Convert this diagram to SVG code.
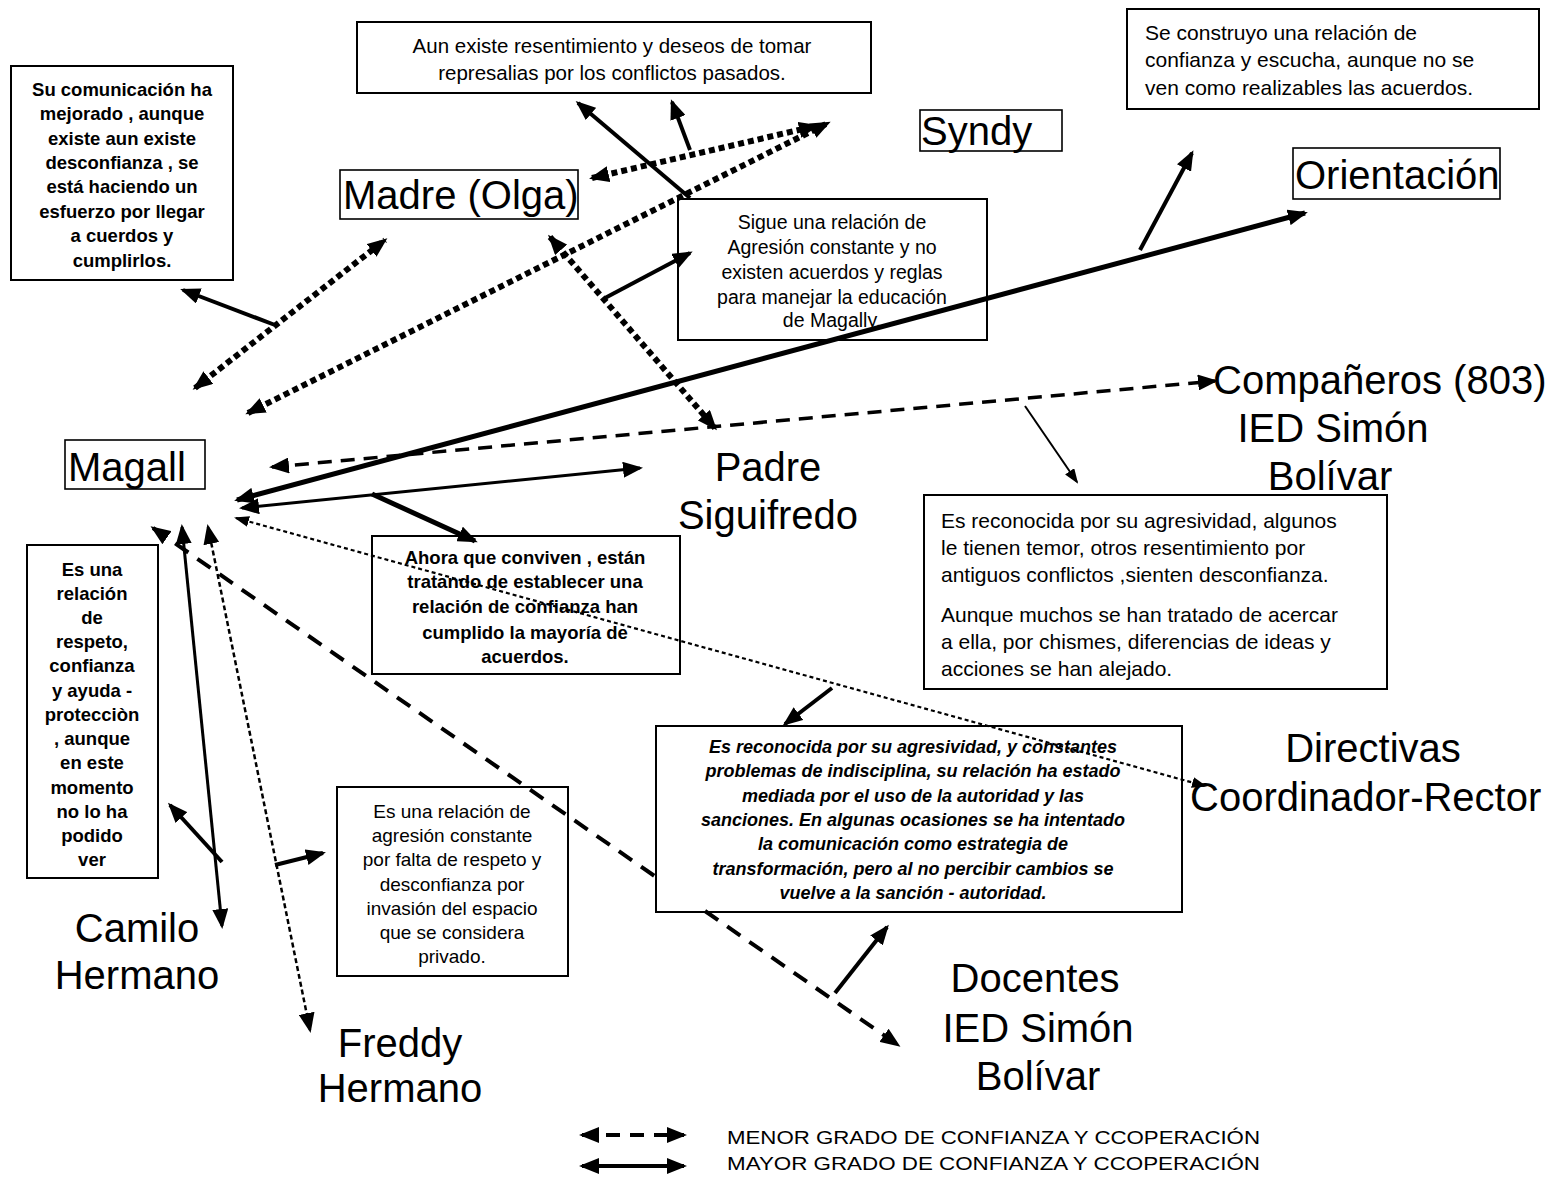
<svg xmlns="http://www.w3.org/2000/svg" width="1550" height="1178" viewBox="0 0 1550 1178">
<defs>
<style>
text{font-family:"Liberation Sans",Arial,sans-serif;fill:#000}
.lbl{font-size:40px}
.lblm{font-size:40px;text-anchor:middle}
.box{fill:#fff;stroke:#000;stroke-width:2}
.nbox{fill:#fff;stroke:#000;stroke-width:1.6}
.s20{font-size:20px;text-anchor:middle}
.s21{font-size:21px}
.sb{font-size:18.5px;font-weight:bold;text-anchor:middle}
.sbi{font-size:18px;font-weight:bold;font-style:italic;text-anchor:middle}
.leg{font-size:19px}
.c{fill:none;stroke:#000}
.dot{stroke-width:6;stroke-dasharray:6 4}
.tdot{stroke-width:2.2;stroke-dasharray:4 3}
.dash{stroke-width:3.5;stroke-dasharray:14 9}
.dash2{stroke-width:4;stroke-dasharray:16 11}
.thick{stroke-width:5}
.med{stroke-width:3}
.ann{stroke-width:4}
.thin{stroke-width:2}
.ah{marker-start:url(#ab);marker-end:url(#ab)}
.as{marker-start:url(#as);marker-end:url(#as)}
.eb{marker-end:url(#ab)}
.es{marker-end:url(#as)}
</style>
<marker id="ab" markerUnits="userSpaceOnUse" markerWidth="20" markerHeight="16" viewBox="0 0 20 16" refX="17" refY="8" orient="auto-start-reverse"><path d="M0,0 L20,8 L0,16 z" fill="#000"/></marker>
<marker id="as" markerUnits="userSpaceOnUse" markerWidth="15" markerHeight="11" viewBox="0 0 15 11" refX="13" refY="5.5" orient="auto-start-reverse"><path d="M0,0 L15,5.5 L0,11 z" fill="#000"/></marker>
</defs>
<rect width="1550" height="1178" fill="#fff"/>

<g id="nodes">
<g id="n-magall"><rect class="nbox" x="65" y="440" width="140" height="49"/><text class="lbl" x="68" y="481">Magall</text></g>
<g id="n-madre"><rect class="nbox" x="340" y="170" width="238" height="49"/><text class="lbl" x="343" y="209">Madre (Olga)</text></g>
<g id="n-syndy"><rect class="nbox" x="920" y="110" width="142" height="41"/><text class="lbl" x="921" y="145">Syndy</text></g>
<g id="n-orientacion"><rect class="nbox" x="1293" y="148" width="207" height="51"/><text class="lbl" x="1295" y="189">Orientación</text></g>
<g id="n-padre"><text class="lblm" x="768" y="481">Padre</text><text class="lblm" x="768" y="529">Siguifredo</text></g>
<g id="n-companeros"><text class="lbl" x="1213" y="394">Compañeros (803)</text><text class="lblm" x="1333" y="442">IED Simón</text><text class="lblm" x="1330" y="490">Bolívar</text></g>
<g id="n-directivas"><text class="lblm" x="1373" y="762">Directivas</text><text class="lbl" x="1190" y="811">Coordinador-Rector</text></g>
<g id="n-camilo"><text class="lblm" x="137" y="942">Camilo</text><text class="lblm" x="137" y="989">Hermano</text></g>
<g id="n-freddy"><text class="lblm" x="400" y="1057">Freddy</text><text class="lblm" x="400" y="1102">Hermano</text></g>
<g id="n-docentes"><text class="lblm" x="1035" y="992">Docentes</text><text class="lblm" x="1038" y="1042">IED Simón</text><text class="lblm" x="1038" y="1090">Bolívar</text></g>

<g id="b-madre-nota"><rect class="box" x="11" y="66" width="222" height="214"/>
<text class="sb"><tspan x="122" y="96">Su comunicación ha</tspan><tspan x="122" y="120">mejorado , aunque</tspan><tspan x="122" y="145">existe aun existe</tspan><tspan x="122" y="169">desconfianza , se</tspan><tspan x="122" y="193">está haciendo un</tspan><tspan x="122" y="218">esfuerzo por llegar</tspan><tspan x="122" y="242">a  cuerdos y</tspan><tspan x="122" y="267">cumplirlos.</tspan></text></g>

<g id="b-syndy-nota"><rect class="box" x="357" y="22" width="514" height="71"/>
<text class="s20" style="font-size:20.5px"><tspan x="612" y="53">Aun existe resentimiento y deseos de tomar</tspan><tspan x="612" y="80">represalias por los conflictos pasados.</tspan></text></g>

<g id="b-orientacion-nota"><rect class="box" x="1127" y="9" width="412" height="100"/>
<text class="s21"><tspan x="1145" y="40">Se construyo una relación de</tspan><tspan x="1145" y="67">confianza y escucha, aunque no se</tspan><tspan x="1145" y="95">ven como realizables las acuerdos.</tspan></text></g>

<g id="b-padres-nota"><rect class="box" x="678" y="199" width="309" height="141"/>
<text class="s20" style="font-size:19.5px"><tspan x="832" y="229">Sigue una relación de</tspan><tspan x="832" y="254">Agresión constante y no</tspan><tspan x="832" y="279">existen acuerdos y reglas</tspan><tspan x="832" y="304">para manejar la educación</tspan><tspan x="832" y="327">de Magally.</tspan></text></g>

<g id="b-padre-nota"><rect class="box" x="372" y="536" width="308" height="138"/>
<text class="sb"><tspan x="525" y="564">Ahora que conviven , están</tspan><tspan x="525" y="588">tratando de establecer una</tspan><tspan x="525" y="613">relación de confianza han</tspan><tspan x="525" y="639">cumplido la mayoría de</tspan><tspan x="525" y="663">acuerdos.</tspan></text></g>

<g id="b-camilo-nota"><rect class="box" x="27" y="545" width="131" height="333"/>
<text class="sb"><tspan x="92" y="576">Es una</tspan><tspan x="92" y="600">relación</tspan><tspan x="92" y="624">de</tspan><tspan x="92" y="648">respeto,</tspan><tspan x="92" y="672">confianza</tspan><tspan x="92" y="697">y ayuda -</tspan><tspan x="92" y="721">protecciòn</tspan><tspan x="92" y="745">, aunque</tspan><tspan x="92" y="769">en este</tspan><tspan x="92" y="794">momento</tspan><tspan x="92" y="818">no lo ha</tspan><tspan x="92" y="842">podido</tspan><tspan x="92" y="866">ver</tspan></text></g>

<g id="b-freddy-nota"><rect class="box" x="337" y="787" width="231" height="189"/>
<text class="s20" style="font-size:19px"><tspan x="452" y="818">Es una relación de</tspan><tspan x="452" y="842">agresión constante</tspan><tspan x="452" y="866">por falta de respeto y</tspan><tspan x="452" y="891">desconfianza por</tspan><tspan x="452" y="915">invasión del espacio</tspan><tspan x="452" y="939">que se considera</tspan><tspan x="452" y="963">privado.</tspan></text></g>

<g id="b-companeros-nota"><rect class="box" x="924" y="495" width="463" height="194"/>
<text class="s21"><tspan x="941" y="528">Es reconocida por su agresividad, algunos</tspan><tspan x="941" y="555">le tienen temor, otros resentimiento por</tspan><tspan x="941" y="582">antiguos conflictos ,sienten desconfianza.</tspan><tspan x="941" y="622">Aunque muchos se han tratado de acercar</tspan><tspan x="941" y="649">a ella, por chismes,  diferencias de ideas y</tspan><tspan x="941" y="676">acciones se han alejado.</tspan></text></g>

<g id="b-directivas-nota"><rect class="box" x="656" y="726" width="526" height="186"/>
<text class="sbi"><tspan x="913" y="753">Es reconocida por su agresividad, y constantes</tspan><tspan x="913" y="777">problemas de indisciplina, su relación ha estado</tspan><tspan x="913" y="802">mediada por el uso de la autoridad y las</tspan><tspan x="913" y="826">sanciones. En algunas ocasiones  se ha intentado</tspan><tspan x="913" y="850">la comunicación como estrategia de</tspan><tspan x="913" y="875">transformación, pero al no percibir cambios se</tspan><tspan x="913" y="899">vuelve a la sanción  - autoridad.</tspan></text></g>

<g id="legend">
<text class="leg" x="727" y="1144" textLength="533" lengthAdjust="spacingAndGlyphs">MENOR GRADO DE CONFIANZA Y CCOPERACIÓN</text>
<text class="leg" x="727" y="1170" textLength="533" lengthAdjust="spacingAndGlyphs">MAYOR GRADO DE CONFIANZA Y CCOPERACIÓN</text>
</g>
</g>

<g id="connectors">
<path class="c dot ah" d="M195,388 L385,240"/>
<path class="c ann eb" d="M275,325 L183,290"/>
<path class="c dot ah" d="M248,413 L828,123"/>
<path class="c dot ah" d="M592,178 L816,126"/>
<path class="c ann eb" d="M690,198 L578,103"/>
<path class="c ann eb" d="M690,150 L672,102"/>
<path class="c dot ah" d="M550,237 L715,428"/>
<path class="c ann eb" d="M605,298 L690,253"/>
<path class="c thick ah" d="M237,500 L1305,213"/>
<path class="c ann eb" d="M1140,250 L1192,153"/>
<path class="c dash ah" d="M272,467 L1215,381"/>
<path class="c thin es" d="M1025,406 L1077,482"/>
<path class="c med ah" d="M242,508 L640,468"/>
<path class="c thick eb" d="M372,494 L475,541"/>
<path class="c tdot as" d="M236,518 L1205,786"/>
<path class="c ann eb" d="M832,688 L785,724"/>
<path class="c dash2 ah" d="M153,528 L656,877 M705,911 L898,1045"/>
<path class="c ann eb" d="M835,993 L887,927"/>
<path class="c med ah" d="M182,527 L222,926"/>
<path class="c ann eb" d="M222,862 L170,805"/>
<path class="c thin ah" style="stroke-width:2.5;stroke-dasharray:5 3" d="M208,527 L310,1030"/>
<path class="c ann eb" d="M275,865 L323,853"/>
<path class="c ah" style="stroke-width:4;stroke-dasharray:14 10" d="M582,1135 L684,1135"/>
<path class="c ah" style="stroke-width:4" d="M582,1166 L684,1166"/>
</g>
</svg>
